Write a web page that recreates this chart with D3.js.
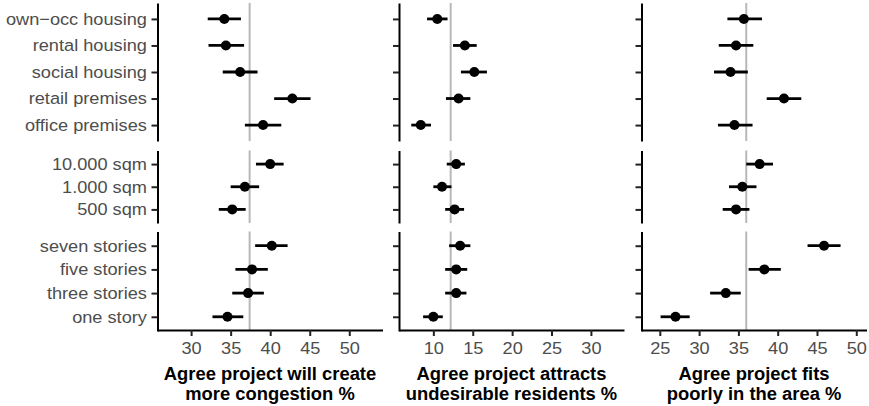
<!DOCTYPE html>
<html>
<head>
<meta charset="utf-8">
<script src="https://cdn.jsdelivr.net/npm/d3@7"></script>
<style>
  html, body { margin: 0; padding: 0; background: #ffffff; }
  svg { display: block; }
</style>
</head>
<body>
<div id="chart"></div>
<script>
// ---------- DATA ----------
const typeCats   = ["own\u2212occ housing", "rental housing", "social housing", "retail premises", "office premises"];
const sizeCats   = ["10.000 sqm", "1.000 sqm", "500 sqm"];
const heightCats = ["seven stories", "five stories", "three stories", "one story"];

const measureTitles = [
  ["Agree project will create", "more congestion %"],
  ["Agree project attracts", "undesirable residents %"],
  ["Agree project fits", "poorly in the area %"]
];

// estimates ordered: typeCats, sizeCats, heightCats
const congestionEst = [34.2, 34.4, 36.2, 42.8, 39.1,   40.0, 36.8, 35.2,   40.2, 37.7, 37.2, 34.6];
const congestionLo  = [32.1, 32.2, 34.0, 40.5, 36.8,   38.2, 35.0, 33.5,   38.1, 35.6, 35.2, 32.7];
const congestionHi  = [36.3, 36.7, 38.4, 45.1, 41.4,   41.7, 38.6, 36.9,   42.2, 39.7, 39.2, 36.6];

const undesirEst = [10.5, 14.0, 15.2, 13.2, 8.4,   12.9, 11.1, 12.7,   13.4, 12.9, 12.9, 10.0];
const undesirLo  = [9.2, 12.5, 13.5, 11.6, 7.2,    11.7, 10.0, 11.5,   12.0, 11.5, 11.5, 8.7];
const undesirHi  = [11.8, 15.5, 16.8, 14.7, 9.7,   14.0, 12.3, 13.9,   14.7, 14.3, 14.2, 11.2];

const fitsEst = [35.7, 34.7, 34.0, 40.8, 34.5,   37.7, 35.5, 34.7,   45.9, 38.3, 33.4, 27.0];
const fitsLo  = [33.6, 32.5, 31.9, 38.6, 32.4,   36.0, 33.8, 33.0,   43.8, 36.3, 31.4, 25.1];
const fitsHi  = [38.0, 36.9, 36.2, 43.0, 36.8,   39.4, 37.3, 36.4,   48.0, 40.4, 35.3, 28.8];

const overallMeans = [37.4, 12.2, 36.0];

const xTicks1 = [30, 35, 40, 45, 50];
const xTicks2 = [10, 15, 20, 25, 30];
const xTicks3 = [25, 30, 35, 40, 45, 50];

// ---------- LAYOUT ----------
const W = 869, H = 406;
const SX = 1.07;   // horizontal stretch of tick labels
const SXT = 1.05;  // horizontal stretch of titles
const cols = [
  { x0: 157.5, x1: 382.5, domain: [25.75, 54.2], ticks: xTicks1, est: congestionEst, lo: congestionLo, hi: congestionHi },
  { x0: 399,   x1: 624,   domain: [5.64, 34.2],  ticks: xTicks2, est: undesirEst,    lo: undesirLo,    hi: undesirHi },
  { x0: 641.5, x1: 866.5, domain: [22.67, 51.3], ticks: xTicks3, est: fitsEst,       lo: fitsLo,       hi: fitsHi }
];
const rows = [
  { y0: 3,     y1: 141,   cats: typeCats,   offset: 0 },
  { y0: 150.5, y1: 223,   cats: sizeCats,   offset: 5 },
  { y0: 231.5, y1: 331,   cats: heightCats, offset: 8 }
];

const svg = d3.select("#chart").append("svg")
  .attr("width", W).attr("height", H)
  .style("font-family", "'Liberation Sans', Arial, sans-serif");

cols.forEach((col, ci) => {
  const x = d3.scaleLinear().domain(col.domain).range([col.x0, col.x1]);

  rows.forEach((row, ri) => {
    const y = d3.scalePoint().domain(row.cats).range([row.y0, row.y1]).padding(0.6);
    const g = svg.append("g");

    // reference line (overall mean)
    g.append("line")
      .attr("x1", x(overallMeans[ci])).attr("x2", x(overallMeans[ci]))
      .attr("y1", row.y0).attr("y2", row.y1)
      .attr("stroke", "#b8b8b8").attr("stroke-width", 2);

    const data = row.cats.map((c, i) => ({
      cat: c,
      est: col.est[row.offset + i],
      lo: col.lo[row.offset + i],
      hi: col.hi[row.offset + i]
    }));

    g.selectAll("line.err").data(data).join("line")
      .attr("class", "err")
      .attr("x1", d => x(d.lo)).attr("x2", d => x(d.hi))
      .attr("y1", d => y(d.cat)).attr("y2", d => y(d.cat))
      .attr("stroke", "#000").attr("stroke-width", 2.8);

    g.selectAll("circle").data(data).join("circle")
      .attr("cx", d => x(d.est)).attr("cy", d => y(d.cat))
      .attr("r", 5).attr("fill", "#000");

    // left axis
    const ya = g.append("g")
      .attr("transform", `translate(${col.x0},0)`)
      .call(d3.axisLeft(y).tickSize(6).tickSizeOuter(0));
    ya.select(".domain").attr("stroke", "#000").attr("stroke-width", 2);
    ya.selectAll(".tick line").attr("stroke", "#222").attr("stroke-width", 2);
    if (ci === 0) {
      ya.selectAll(".tick text")
        .attr("x", -10.6 / SX)
        .attr("transform", `scale(${SX},1)`)
        .attr("fill", "#4d4d4d")
        .style("font-size", "17px")
        .style("font-family", "'Liberation Sans', Arial, sans-serif");
    } else {
      ya.selectAll(".tick text").remove();
    }

    // bottom axis only on last row
    if (ri === rows.length - 1) {
      const xa = g.append("g")
        .attr("transform", `translate(0,${row.y1 - 1})`)
        .call(d3.axisBottom(x).tickValues(col.ticks).tickSize(6).tickPadding(6).tickSizeOuter(0));
      xa.select(".domain").attr("stroke", "#000").attr("stroke-width", 2);
      xa.selectAll(".tick line").attr("stroke", "#222").attr("stroke-width", 2);
      xa.selectAll(".tick text")
        .attr("transform", `scale(${SX},1)`)
        .attr("fill", "#4d4d4d")
        .style("font-size", "17px")
        .style("font-family", "'Liberation Sans', Arial, sans-serif");
    }
  });

  // x-axis title
  const cx = (col.x0 + col.x1) / 2;
  measureTitles[ci].forEach((line, li) => {
    svg.append("text")
      .attr("transform", `translate(${cx},${380 + li * 20}) scale(${SXT},1)`)
      .attr("text-anchor", "middle")
      .attr("font-weight", "bold")
      .attr("font-size", "17.5px")
      .attr("fill", "#000")
      .text(line);
  });
});
</script>
</body>
</html>
